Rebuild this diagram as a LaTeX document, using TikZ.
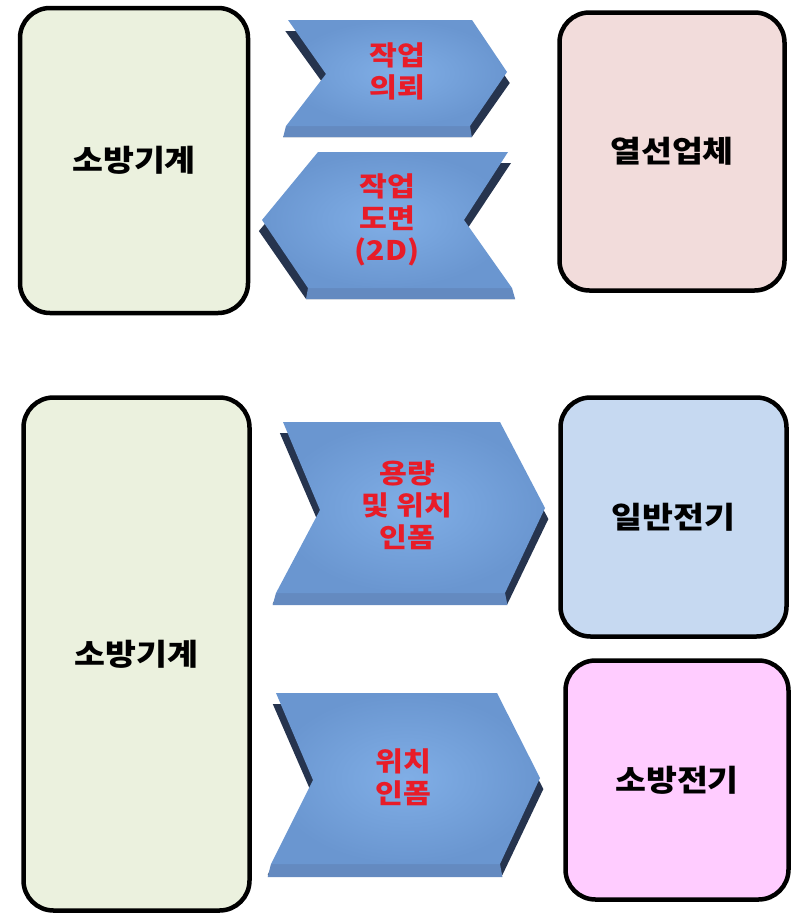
\documentclass[tikz,border=0pt]{standalone}
\usepackage{fontspec}
\setmainfont{Noto Sans CJK KR}
\newfontfamily\widekr[FakeStretch=1.12]{Noto Sans CJK KR}
\definecolor{chevred}{RGB}{232,28,40}
\definecolor{chevdark}{RGB}{38,52,78}
\definecolor{chevbot}{RGB}{100,138,192}
\definecolor{chevin}{RGB}{128,174,230}
\definecolor{chevout}{RGB}{106,150,208}
\definecolor{fgreen}{RGB}{235,241,222}
\definecolor{fpink}{RGB}{242,220,219}
\definecolor{fblue}{RGB}{198,217,241}
\definecolor{fmag}{RGB}{255,204,255}
\newcommand{\chevdraw}[3]{%
  \begin{scope}[shift={(#2,11)},xscale=1.025,shift={(-#2,0)}]
    \fill[chevdark] #1;
  \end{scope}
  \fill[chevbot] #3;
  \shade[inner color=chevin,outer color=chevout] #1;
}
\begin{document}
\begin{tikzpicture}[x=1pt,y=-1pt,
  box/.style={draw=black, line width=4.5pt, rounded corners=30pt, inner sep=0pt, outer sep=0pt,
    font=\widekr\fontsize{30}{36}\selectfont\bfseries, text=black},
  chevtext/.style={font=\widekr\fontsize{27}{32}\selectfont\bfseries, text=chevred, align=center, inner sep=0pt}]
\useasboundingbox (0,0) rectangle (796,918);

% boxes
\node[box, fill=fgreen, minimum width=228pt, minimum height=305pt] (b1) at (134,160.5) {소방기계};
\node[box, fill=fpink, minimum width=225pt, minimum height=278pt] (b2) at (672,151.5) {열선업체};
\node[box, fill=fgreen, minimum width=226pt, minimum height=513pt] (b3) at (136.5,654) {소방기계};
\node[box, fill=fblue, minimum width=226pt, minimum height=239pt] (b4) at (673.5,517) {일반전기};
\node[box, fill=fmag, minimum width=223pt, minimum height=239pt] (b5) at (677,780) {소방전기};

% chevrons
\chevdraw{(288,20) -- (472,20) -- (507,72) -- (470,126) -- (286,126) -- (326,74) -- cycle}{397}
  {(286,126) -- (470,126) -- (471.8,137) -- (283.2,137) -- cycle}
\chevdraw{(318,152) -- (508,152) -- (464,220) -- (512,288) -- (308,288) -- (262,220) -- cycle}{387}
  {(308,288) -- (512,288) -- (515.1,299) -- (306,299) -- cycle}
\chevdraw{(283,422) -- (500,422) -- (545,508) -- (505,593) -- (276,593) -- (320,510) -- cycle}{410}
  {(276,593) -- (505,593) -- (507.4,605) -- (272.7,605) -- cycle}
\chevdraw{(276,693) -- (497,693) -- (540,778) -- (500,864) -- (271,864) -- (313,780) -- cycle}{405}
  {(271,864) -- (500,864) -- (502.4,877) -- (267.7,877) -- cycle}

% chevron labels
\node[chevtext] (t1) at (397,71) {작업\\의뢰};
\node[chevtext] (t2) at (387,220) {작업\\도면\\(2D)};
\node[chevtext] (t3) at (407,505) {용량\\및 위치\\인폼};
\node[chevtext] (t4) at (403,777) {위치\\인폼};
\end{tikzpicture}
\end{document}
